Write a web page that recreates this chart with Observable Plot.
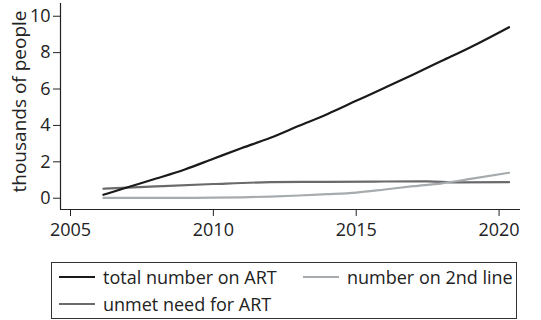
<!DOCTYPE html>
<html><head><meta charset="utf-8">
<script src="https://cdn.jsdelivr.net/npm/d3@7"></script>
<script src="https://cdn.jsdelivr.net/npm/@observablehq/plot@0.6"></script>
<style>
body{margin:0;background:#fff;font-family:"Open Sans",sans-serif;}
#wrap{position:relative;width:541px;height:320px;}
#legend{position:absolute;left:51px;top:262px;width:466px;height:57px;border:1px solid #333;box-sizing:border-box;font-size:18px;color:#222;}
.item{position:absolute;display:flex;align-items:center;white-space:nowrap;line-height:20px;}
.sw{width:36px;height:2.2px;margin-right:8px;}
</style></head>
<body><div id="wrap"><div id="legend"></div></div>
<script>
const seriesNames = ["total number on ART", "number on 2nd line", "unmet need for ART"];
const seriesColors = ["#1a1a1a", "#a7abae", "#6a6a6d"];
const totalYears = [2006.15, 2007, 2008, 2009, 2010, 2011, 2012, 2013, 2014, 2015, 2016, 2017, 2018, 2019, 2020.35];
const totalValues = [0.19, 0.6, 1.08, 1.58, 2.17, 2.76, 3.32, 3.98, 4.63, 5.35, 6.07, 6.8, 7.55, 8.3, 9.4];
const secondYears = [2006.15, 2009, 2010, 2011, 2012, 2013, 2014, 2015, 2016, 2017, 2018, 2019, 2020.35];
const secondValues = [0.02, 0.02, 0.03, 0.05, 0.09, 0.15, 0.22, 0.31, 0.48, 0.66, 0.82, 1.06, 1.4];
const unmetYears = [2006.15, 2008, 2010, 2012, 2014, 2016, 2017.5, 2018.5, 2020.35];
const unmetValues = [0.52, 0.65, 0.78, 0.88, 0.9, 0.92, 0.93, 0.87, 0.88];
const xTicks = [2005, 2010, 2015, 2020];
const yTicks = [0, 2, 4, 6, 8, 10];
const yLabel = "thousands of people";

const rows = [];
totalYears.forEach((x,i)=>rows.push({s:seriesNames[0], x, y: totalValues[i]}));
secondYears.forEach((x,i)=>rows.push({s:seriesNames[1], x, y: secondValues[i]}));
unmetYears.forEach((x,i)=>rows.push({s:seriesNames[2], x, y: unmetValues[i]}));

const xDom = [2004.65, 2020.75], yDom = [-0.62, 10.7];
const chart = Plot.plot({
  width: 541, height: 250,
  marginLeft: 60, marginRight: 21, marginTop: 3, marginBottom: 41,
  style: {fontFamily: '"Open Sans", sans-serif', fontSize: "18px", color: "#222", background: "#fff"},
  x: {domain: xDom, ticks: xTicks, tickFormat: "d", tickSize: 7, tickPadding: 7, label: null},
  y: {domain: yDom, ticks: yTicks, tickSize: 7, tickPadding: 3, label: null},
  color: {domain: seriesNames, range: seriesColors},
  marks: [
    Plot.ruleX([xDom[0]], {stroke: "#222", strokeWidth: 1.2}),
    Plot.ruleY([yDom[0]], {stroke: "#222", strokeWidth: 1.2}),
    Plot.text([yLabel], {frameAnchor: "left", dx: -41, dy: -5, rotate: -90, text: d => d, textAnchor: "middle", fontSize: 19, fill: "#222"}),
    Plot.line(rows.filter(d=>d.s===seriesNames[2]), {x:"x", y:"y", stroke:"s", strokeWidth: 2.2, curve: "monotone-x"}),
    Plot.line(rows.filter(d=>d.s===seriesNames[1]), {x:"x", y:"y", stroke:"s", strokeWidth: 2.2, curve: "monotone-x"}),
    Plot.line(rows.filter(d=>d.s===seriesNames[0]), {x:"x", y:"y", stroke:"s", strokeWidth: 2.2, curve: "monotone-x"})
  ]
});
const wrap = document.getElementById("wrap");
wrap.insertBefore(chart, wrap.firstChild);
chart.style.display = "block";
const legend = document.getElementById("legend");
const pos = [[7, 4], [251, 4], [7, 31]];
seriesNames.forEach((n,i)=>{
  const it = document.createElement("div");
  it.className = "item";
  it.style.left = pos[i][0] + "px"; it.style.top = pos[i][1] + "px";
  it.innerHTML = `<div class="sw" style="background:${seriesColors[i]}"></div><span>${n}</span>`;
  legend.appendChild(it);
});
</script></body></html>
